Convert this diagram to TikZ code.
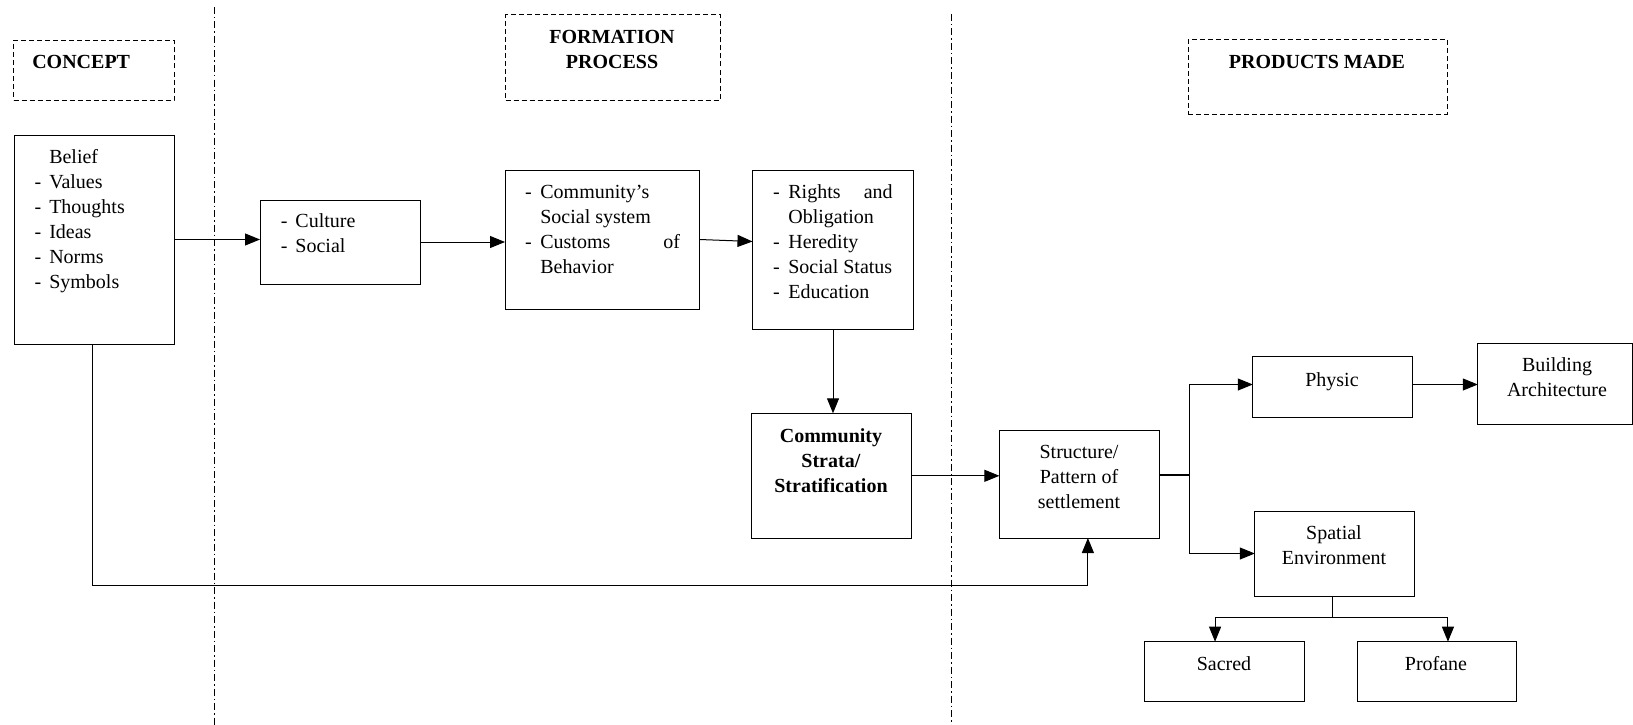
\documentclass[tikz,border=0pt]{standalone}
\usepackage{fontspec}
\setmainfont{Liberation Serif}
\usetikzlibrary{arrows.meta}

\begin{document}
\begin{tikzpicture}[x=1pt, y=-1pt, line width=1pt,
every node/.style={font=\fontsize{20}{25}\selectfont, inner sep=0pt, outer sep=0pt},
box/.style={draw, rectangle, anchor=north west},
headbox/.style={box, dash pattern=on 5pt off 3pt},
arr/.style={-{Triangle[length=15pt,width=12pt]}},
divider/.style={dash pattern=on 7pt off 3pt on 1.5pt off 3pt},
]
\useasboundingbox (0,0) rectangle (1633,725);

% column separators
\draw[divider] (214.5,7) -- (214.5,725);
\draw[divider] (951,14) -- (951,725);

% headings
\node[headbox, minimum width=160.5pt, minimum height=59.5pt] (concept) at (13.5,40.5) {};
\node[headbox, minimum width=214.5pt, minimum height=85pt] (formation) at (505.7,15) {};
\node[headbox, minimum width=259pt, minimum height=74.7pt] (products) at (1188,39.3) {};
\node[anchor=base west] (conceptTxt) at (32.3,68.6) {\textbf{CONCEPT}};
\node[anchor=base, align=center] (formationTxt) at (612,68.3) {\textbf{FORMATION}\\\textbf{PROCESS}};
\node[anchor=base] (productsTxt) at (1317,68.6) {\textbf{PRODUCTS MADE}};

% boxes
\node[box, minimum width=160pt, minimum height=209pt] (belief) at (14,135) {};
\node[box, minimum width=160pt, minimum height=84pt] (culture) at (260,200) {};
\node[box, minimum width=194.5pt, minimum height=139pt] (custom) at (505,170) {};
\node[box, minimum width=161pt, minimum height=159pt] (rights) at (752.5,170) {};
\node[box, minimum width=159.5pt, minimum height=125pt] (strata) at (751.8,413.3) {};
\node[box, minimum width=160pt, minimum height=108pt] (settle) at (999.4,430) {};
\node[box, minimum width=160pt, minimum height=61pt] (physic) at (1252.8,356) {};
\node[box, minimum width=155pt, minimum height=81pt] (building) at (1477.8,343.3) {};
\node[box, minimum width=159.5pt, minimum height=85pt] (spatial) at (1254.8,511) {};
\node[box, minimum width=159.5pt, minimum height=60pt] (sacred) at (1144.6,641.7) {};
\node[box, minimum width=159.5pt, minimum height=60pt] (profane) at (1357,641.7) {};

% box texts
\node[anchor=base west] (beliefTxt) at (34.6,163) {\begin{tabular}[t]{@{}l@{\hspace{8pt}}l@{}}
 & Belief\\ - & Values\\ - & Thoughts\\ - & Ideas\\ - & Norms\\ - & Symbols\end{tabular}};
\node[anchor=base west] (cultureTxt) at (280.8,227.7) {\begin{tabular}[t]{@{}l@{\hspace{8pt}}l@{}}
- & Culture\\ - & Social\end{tabular}};
\node[anchor=base west] (customTxt) at (525.2,198) {\begin{tabular}[t]{@{}l@{\hspace{8.5pt}}l@{}}
- & Community’s\\ & Social system\\ - & \makebox[139.7pt][s]{Customs\hfill of}\\ & Behavior\end{tabular}};
\node[anchor=base west] (rightsTxt) at (773.2,198) {\begin{tabular}[t]{@{}l@{\hspace{8.5pt}}l@{}}
- & \makebox[104.3pt][s]{Rights\hfill and}\\ & Obligation\\ - & Heredity\\ - & Social Status\\ - & Education\end{tabular}};
\node[anchor=base, align=center] (strataTxt) at (831,492.5) {\textbf{Community}\\\textbf{Strata/}\\\textbf{Stratification}};
\node[anchor=base, align=center] (settleTxt) at (1079,508.5) {Structure/\\Pattern of\\settlement};
\node[anchor=base] (physicTxt) at (1332,386) {Physic};
\node[anchor=base, align=center] (buildingTxt) at (1557,396.5) {Building\\Architecture};
\node[anchor=base, align=center] (spatialTxt) at (1334,564.5) {Spatial\\Environment};
\node[anchor=base] (sacredTxt) at (1224,670) {Sacred};
\node[anchor=base] (profaneTxt) at (1436,670) {Profane};

% connectors
\draw[arr] (belief.east) -- (belief.east -| culture.west);
\draw[arr] (culture.east) -- (culture.east -| custom.west);
\draw[arr] (custom.east) -- ([yshift=8pt]rights.west);
\draw[arr] (rights.south) -- (rights.south |- strata.north);
\draw[arr] (strata.east) -- (strata.east -| settle.west);
\draw[arr] ([xshift=-1.5pt]belief.south) -- ++(0,241.3) -| ([xshift=8.5pt]settle.south);
\coordinate (fork) at (1189,475);
\draw[line width=2.2pt] ([yshift=9pt]settle.east) -- (fork);
\draw[arr] (fork) |- ([yshift=2pt]physic.west);
\draw[arr] (fork) |- (spatial.west);
\draw[arr] ([yshift=2pt]physic.east) -- ([yshift=2pt]physic.east -| building.west);
\draw ([xshift=-2.5pt]spatial.south) -- ++(0,21.7) coordinate (split);
\draw[arr] (split) -| ([xshift=-9.3pt]sacred.north);
\draw[arr] (split) -| ([xshift=11.2pt]profane.north);
\end{tikzpicture}
\end{document}
